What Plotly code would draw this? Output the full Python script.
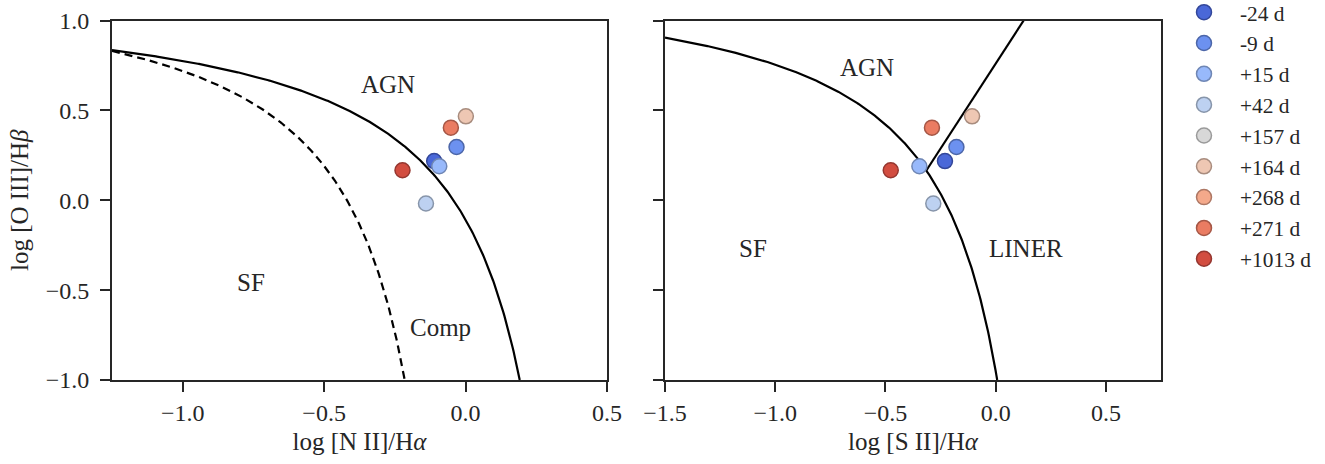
import numpy as np
import plotly.graph_objects as go

# ---------------- data ----------------
epochs = ["-24 d", "-9 d", "+15 d", "+42 d", "+157 d", "+164 d", "+268 d", "+271 d", "+1013 d"]
log_nii_ha = [-0.111, -0.032, -0.093, -0.140, None, 0.001, None, -0.052, -0.223]
log_sii_ha = [-0.230, -0.178, -0.346, -0.283, None, -0.107, None, -0.289, -0.476]
log_oiii_hb = [0.218, 0.296, 0.189, -0.018, None, 0.467, None, 0.404, 0.167]

# demarcation line coefficients  y = a/(x-b)+c  and  y = m*x + q
kewley_nii = (0.61, 0.47, 1.19)
kauffmann_nii = (0.61, 0.05, 1.30)
kewley_sii = (0.72, 0.32, 1.30)
liner_sii = (1.89, 0.76)

x_ticks_left = [-1.0, -0.5, 0.0, 0.5]
x_ticks_right = [-1.5, -1.0, -0.5, 0.0, 0.5]
y_ticks = [-1.0, -0.5, 0.0, 0.5, 1.0]

# ---------------- styles ----------------
fill_colors = ["#4a68d8", "#6c91f0", "#98b9fb", "#bdd1f1", "#d8d8d8",
               "#eec7b3", "#f4a98b", "#ea7c62", "#d24d40"]
edge_colors = ["#33479a", "#4c66a8", "#6f86b4", "#8795aa", "#9a9a9a",
               "#a88c7e", "#ad7764", "#a55746", "#953730"]
FONT = "Liberation Serif"
TXT = "#262626"


def fmt(v):
    s = f"{abs(v):.1f}"
    return ("\u2212" + s) if v < 0 else s


def hyper(coef, x0):
    a, b, c = coef
    x_end = b + a / (-1.0 - c)  # where the curve reaches y = -1
    x = np.linspace(x0, x_end, 400)
    return x, a / (x - b) + c


fig = go.Figure()

# curves
xk, yk = hyper(kewley_nii, -1.25)
fig.add_trace(go.Scatter(x=xk, y=yk, mode="lines", line=dict(color="black", width=2.2),
                         showlegend=False, hoverinfo="skip", xaxis="x", yaxis="y"))
xk2, yk2 = hyper(kauffmann_nii, -1.25)
fig.add_trace(go.Scatter(x=xk2, y=yk2, mode="lines",
                         line=dict(color="black", width=2.2, dash="8px,5px"),
                         showlegend=False, hoverinfo="skip", xaxis="x", yaxis="y"))
xs, ys = hyper(kewley_sii, -1.5)
fig.add_trace(go.Scatter(x=xs, y=ys, mode="lines", line=dict(color="black", width=2.2),
                         showlegend=False, hoverinfo="skip", xaxis="x2", yaxis="y2"))
# LINER line from intersection with Kewley curve up to y=1
m, q = liner_sii
a, b, c = kewley_sii
roots = np.roots([m, (q - c) - m * b, -(q - c) * b - a])
xi = float(max(r.real for r in roots if -1.0 < r.real < b))
xl = np.array([xi, (1.0 - q) / m])
fig.add_trace(go.Scatter(x=xl, y=m * xl + q, mode="lines", line=dict(color="black", width=2.2),
                         showlegend=False, hoverinfo="skip", xaxis="x2", yaxis="y2"))

# points
for i, ep in enumerate(epochs):
    mk = dict(size=15, color=fill_colors[i], line=dict(color=edge_colors[i], width=1.5))
    fig.add_trace(go.Scatter(x=[log_nii_ha[i]], y=[log_oiii_hb[i]], mode="markers", marker=mk,
                             name=ep, legendgroup=ep, showlegend=True, xaxis="x", yaxis="y"))
    fig.add_trace(go.Scatter(x=[log_sii_ha[i]], y=[log_oiii_hb[i]], mode="markers", marker=mk,
                             name=ep, legendgroup=ep, showlegend=False, xaxis="x2", yaxis="y2"))

# region labels
labels = [("AGN", -0.275, 0.644, "x", "y"), ("SF", -0.76, -0.46, "x", "y"),
          ("Comp", -0.087, -0.71, "x", "y"),
          ("AGN", -0.583, 0.74, "x2", "y2"), ("SF", -1.10, -0.27, "x2", "y2"),
          ("LINER", 0.138, -0.27, "x2", "y2")]
for t, x, y, xr, yr in labels:
    fig.add_annotation(text=t, x=x, y=y, xref=xr, yref=yr, showarrow=False,
                       font=dict(family=FONT, size=25, color=TXT))

axis_common = dict(showline=True, mirror=True, linecolor=TXT, linewidth=2, ticks="outside",
                   ticklen=10, tickwidth=2, tickcolor=TXT, showgrid=False, zeroline=False,
                   automargin=False,
                   tickfont=dict(family=FONT, size=24, color=TXT))
title_font = dict(family=FONT, size=25, color=TXT)

W, H = 1325, 464
ytop, ybot = 1 - 20.5 / H, 1 - 380 / H
fig.update_layout(
    template="none",
    width=W, height=H, margin=dict(l=0, r=0, t=0, b=0, autoexpand=False),
    plot_bgcolor="white", paper_bgcolor="white",
    font=dict(family=FONT, color=TXT, size=22),
    xaxis=dict(domain=[112 / W, 607 / W], range=[-1.25, 0.5], anchor="y",
               tickvals=x_ticks_left, ticktext=[fmt(v) for v in x_ticks_left],
               ticklabelstandoff=0,
               title=dict(text="log [N II]/H<i>\u03b1</i>", standoff=8, font=title_font),
               **axis_common),
    yaxis=dict(domain=[ybot, ytop], range=[-1.0, 1.0], anchor="x",
               tickvals=y_ticks, ticktext=[fmt(v) for v in y_ticks],
               ticklabelstandoff=6,
               title=dict(text="log [O III]/H<i>\u03b2</i>", standoff=10, font=title_font),
               **axis_common),
    xaxis2=dict(domain=[665 / W, 1161 / W], range=[-1.5, 0.75], anchor="y2",
                tickvals=x_ticks_right, ticktext=[fmt(v) for v in x_ticks_right],
                ticklabelstandoff=0,
                title=dict(text="log [S II]/H<i>\u03b1</i>", standoff=8, font=title_font),
                **axis_common),
    yaxis2=dict(domain=[ybot, ytop], range=[-1.0, 1.0], anchor="x2",
                tickvals=y_ticks, showticklabels=False, **axis_common),
    legend=dict(x=1168 / W, y=0.397, xanchor="left", yanchor="bottom",
                font=dict(family=FONT, size=21.4, color=TXT), bgcolor="rgba(0,0,0,0)",
                tracegroupgap=0, itemsizing="trace", itemwidth=62),
    showlegend=True,
)

fig.write_html("out.html",
               post_script="document.body.style.margin='0';"
                           "document.documentElement.style.overflow='hidden';")
